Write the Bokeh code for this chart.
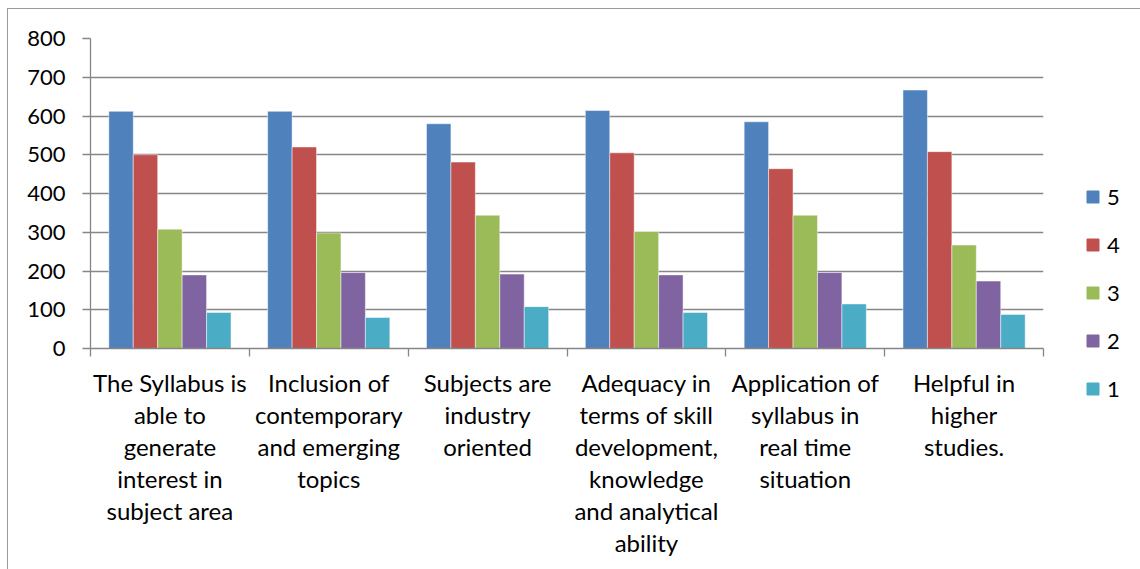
import numpy as np
from bokeh.plotting import figure
from bokeh.layouts import row
from bokeh.models import Range1d, FixedTicker, Legend, LegendItem, ColumnDataSource
from bokeh.embed import file_html
from bokeh.resources import INLINE

categories = [
    "The Syllabus is\nable to\ngenerate\ninterest in\nsubject area",
    "Inclusion of\ncontemporary\nand emerging\ntopics",
    "Subjects are\nindustry\noriented",
    "Adequacy in\nterms of skill\ndevelopment,\nknowledge\nand analytical\nability",
    "Application of\nsyllabus in\nreal time\nsituation",
    "Helpful in\nhigher\nstudies.",
]
series_names = ["5", "4", "3", "2", "1"]
s5 = [612, 612, 580, 614, 585, 667]
s4 = [500, 520, 481, 505, 464, 508]
s3 = [308, 298, 344, 302, 344, 267]
s2 = [190, 196, 192, 190, 196, 174]
s1 = [93, 80, 108, 93, 115, 88]
series_values = [s5, s4, s3, s2, s1]
colors = ["#4F81BD", "#C0504D", "#9BBB59", "#8064A2", "#4BACC6"]
y_ticks = [0, 100, 200, 300, 400, 500, 600, 700, 800]

FONT = "Lato"
GRAY = "#868686"
H = 560

n = len(categories)
p = figure(width=1037, height=H, output_backend="svg", toolbar_location=None,
           x_range=Range1d(0, n), y_range=Range1d(0, 800),
           min_border_left=82, min_border_top=29, min_border_right=2, min_border_bottom=221)
p.outline_line_color = None
p.background_fill_color = "white"
p.frame_align = False

bar_w = 1.0 / 6.5
centers = np.arange(n) + 0.5
for k, (name, vals, col) in enumerate(zip(series_names, series_values, colors)):
    src = ColumnDataSource(dict(x=centers + (k - 2) * bar_w, top=vals))
    p.vbar(x="x", top="top", width=bar_w, bottom=0, source=src,
           fill_color=col, line_color="white", line_alpha=0.6, line_width=0.8)

# y axis
p.yaxis.ticker = FixedTicker(ticks=y_ticks)
p.yaxis.major_label_text_font = FONT
p.yaxis.major_label_text_font_size = "22px"
p.yaxis.major_label_text_color = "black"
p.yaxis.major_label_standoff = 17
p.yaxis.major_tick_out = 8
p.yaxis.major_tick_in = 0
p.yaxis.minor_tick_line_color = None
p.yaxis.axis_line_color = GRAY
p.yaxis.axis_line_width = 1.3
p.yaxis.major_tick_line_color = GRAY
p.yaxis.major_tick_line_width = 1.3

p.ygrid.ticker = FixedTicker(ticks=y_ticks)
p.ygrid.grid_line_color = GRAY
p.ygrid.grid_line_width = 1.3
p.xgrid.grid_line_color = None

# x axis
p.xaxis.ticker = FixedTicker(ticks=list(centers), minor_ticks=list(range(n + 1)))
p.xaxis.major_label_overrides = {float(c): lab for c, lab in zip(centers, categories)}
p.xaxis.major_label_text_font = FONT
p.xaxis.major_label_text_font_size = "24px"
p.xaxis.major_label_text_color = "black"
p.xaxis.major_label_text_line_height = 1.11
p.xaxis.major_label_standoff = 11
p.xaxis.major_tick_out = 0
p.xaxis.major_tick_in = 0
p.xaxis.minor_tick_out = 8
p.xaxis.minor_tick_in = 0
p.xaxis.minor_tick_line_color = GRAY
p.xaxis.minor_tick_line_width = 1.3
p.xaxis.axis_line_color = GRAY
p.xaxis.axis_line_width = 1.3

# legend panel (separate small figure to the right of the plot)
pl = figure(width=95, height=H, output_backend="svg", toolbar_location=None,
            x_range=Range1d(0, 1), y_range=Range1d(0, 1),
            x_axis_type=None, y_axis_type=None, min_border=0)
pl.outline_line_color = None
pl.grid.visible = False
pl.frame_align = False
leg_renderers = []
for name, col in zip(series_names, colors):
    src = ColumnDataSource(dict(x=[np.nan], top=[np.nan]))
    leg_renderers.append(pl.vbar(x="x", top="top", width=0.1, source=src,
                                 fill_color=col, line_color=col))

legend = Legend(items=[LegendItem(label=nm, renderers=[r]) for nm, r in zip(series_names, leg_renderers)],
                location=(40, 167))
legend.glyph_width = 15
legend.glyph_height = 15
legend.label_standoff = 7
legend.spacing = 21
legend.padding = 0
legend.margin = 0
legend.label_text_font = FONT
legend.label_text_font_size = "22px"
legend.label_text_color = "black"
legend.border_line_alpha = 0
legend.background_fill_alpha = 0
pl.add_layout(legend, "center")

layout = row(p, pl, styles={"margin-left": "7px", "margin-top": "8px",
                            "border-left": "1px solid #9a9a9a", "border-top": "1px solid #9a9a9a"})

open("out.html", "w").write(file_html(layout, INLINE))
